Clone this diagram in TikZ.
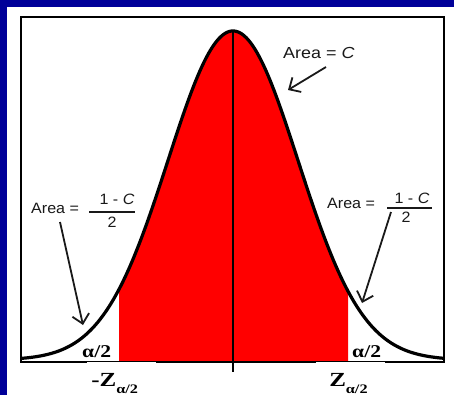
\documentclass[tikz,border=0pt]{standalone}
\usepackage{fontspec}
\setmainfont{Liberation Serif}
\newfontfamily\lsans{Liberation Sans}
\usetikzlibrary{arrows.meta}
\definecolor{bgblue}{RGB}{0,0,153}
\definecolor{fillred}{RGB}{255,0,0}
\begin{document}
\begin{tikzpicture}[x=1pt,y=-1pt,
  lbl/.style={font=\lsans\fontsize{15}{15}\selectfont, text=black!90, inner sep=0pt, xscale=1.07},
  toplbl/.style={font=\lsans\fontsize{16}{16}\selectfont, text=black!90, inner sep=0pt, xscale=1.12},
  alab/.style={font=\bfseries\fontsize{18}{18}\selectfont, inner sep=0pt, xscale=1.2},
  zlab/.style={font=\bfseries\fontsize{20}{20}\selectfont, inner sep=0pt, xscale=1.25},
  wbox/.style={fill=white, draw=none, minimum width=69pt, minimum height=40pt, inner sep=0pt},
  arr/.style={line width=1.8pt, -{Straight Barb[length=9pt,width=17pt]}, black!90},
  fbar/.style={line width=1.3pt, black!90}]
\useasboundingbox (0,0) rectangle (454,394);
% background
\fill[bgblue] (-10,-10) rectangle (470,410);
\fill[white] (7,7) rectangle (470,410);
% red central area
\fill[fillred] (119,362) -- plot[domain=119:348, samples=120]
  ({\x},{360-329*exp(-((\x-233)/65)*((\x-233)/65)/2)}) -- (348,362) -- cycle;
% frame
\draw[line width=2.6pt] (21,17) rectangle (444,362);
% centre line
\draw[line width=2.4pt] (233,31) -- (233,372);
% curve
\draw[line width=3.2pt, line join=round] plot[domain=21:444, samples=200]
  ({\x},{360-329*exp(-((\x-233)/65)*((\x-233)/65)/2)});
% white boxes under the axis labels
\node[wbox] (lbox) at (121,381.5) {};
\node[wbox] (rbox) at (350.5,381.5) {};
% labels
\node[toplbl, anchor=base west] (areac) at (283,58) {Area = \textit{C}};
\node[lbl, anchor=base west] (larea) at (31,213) {Area =};
\node[lbl, anchor=base] (lnum) at (117,204) {1 - \textit{C}};
\node[lbl, anchor=base] (lden) at (112,227) {2};
\coordinate (lb1) at (89,212);
\coordinate (lb2) at (135,212);
\draw[fbar] (lb1) -- (lb2);
\node[lbl, anchor=base west] (rarea) at (327,208) {Area =};
\node[lbl, anchor=base] (rnum) at (412,203) {1 - \textit{C}};
\node[lbl, anchor=base] (rden) at (406,222) {2};
\coordinate (rb1) at (387,208);
\coordinate (rb2) at (432,208);
\draw[fbar] (rb1) -- (rb2);
\node[alab, anchor=base west] (la) at (82,357) {α/2};
\node[alab, anchor=base west] (ra) at (352,357) {α/2};
\node[zlab, anchor=base west] (lz) at (91,386) {-Z\raisebox{-7pt}{\fontsize{13}{13}\selectfont α/2}};
\node[zlab, anchor=base west] (rz) at (329,386) {Z\raisebox{-7pt}{\fontsize{13}{13}\selectfont α/2}};
% arrows
\coordinate (a1s) at (326,67);
\coordinate (a1e) at (288,90);
\coordinate (a2s) at (60,222);
\coordinate (a2e) at (83,325);
\coordinate (a3s) at (391,212);
\coordinate (a3e) at (362,303);
\draw[arr] (a1s) -- (a1e);
\draw[arr] (a2s) -- (a2e);
\draw[arr] (a3s) -- (a3e);
\end{tikzpicture}
\end{document}
